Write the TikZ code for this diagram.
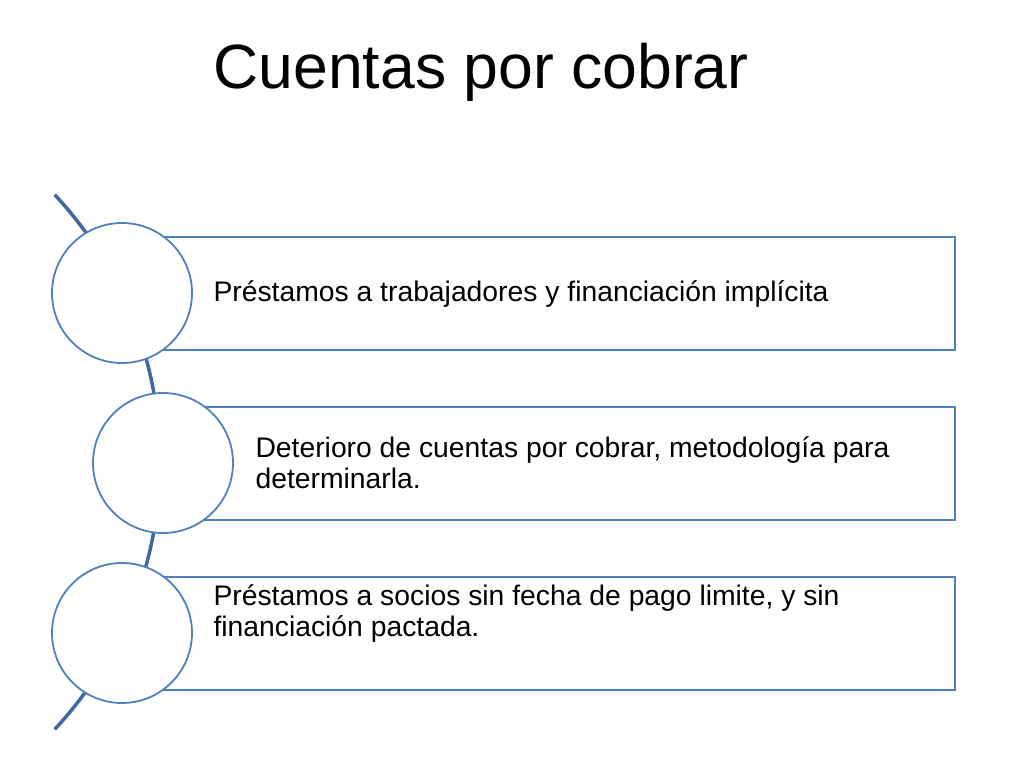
\documentclass[tikz,border=0pt]{standalone}
\usepackage{fontspec}
\setmainfont{Liberation Sans}
\begin{document}
\begin{tikzpicture}[x=1pt,y=-1pt,
  bar/.style={draw=boxc,line width=1.8pt,fill=white},
  circ/.style={circle,draw=boxc,line width=1.8pt,fill=white,minimum size=140pt,inner sep=0pt},
  txt/.style={anchor=west,align=left,font=\fontsize{28.3}{31}\selectfont}]
\definecolor{boxc}{HTML}{4F81BD}
\definecolor{arcc}{HTML}{41689F}
\useasboundingbox (0,0) rectangle (1024,768);
\node[font=\fontsize{62.5}{68}\selectfont] (title) at (481,72) {Cuentas por cobrar};
\draw[arcc,line width=3.5pt] ([shift={(-232,462)}]-43:392) coordinate (a1) arc (-43:43:392) coordinate (a2);
\draw[bar] (155,237) rectangle (955,350);
\draw[bar] (195,407) rectangle (955,520);
\draw[bar] (155,577) rectangle (955,690);
\node[circ] (c1) at (122,293) {};
\node[circ] (c2) at (163,463) {};
\node[circ] (c3) at (122,633) {};
\node[txt] (t1) at (210,294) {Préstamos a trabajadores y financiación implícita};
\node[txt] (t2) at (252,463) {Deterioro de cuentas por cobrar, metodología para\\determinarla.};
\node[txt] (t3) at (210,614) {Préstamos a socios sin fecha de pago limite, y sin\\financiación pactada.};
\end{tikzpicture}
\end{document}
